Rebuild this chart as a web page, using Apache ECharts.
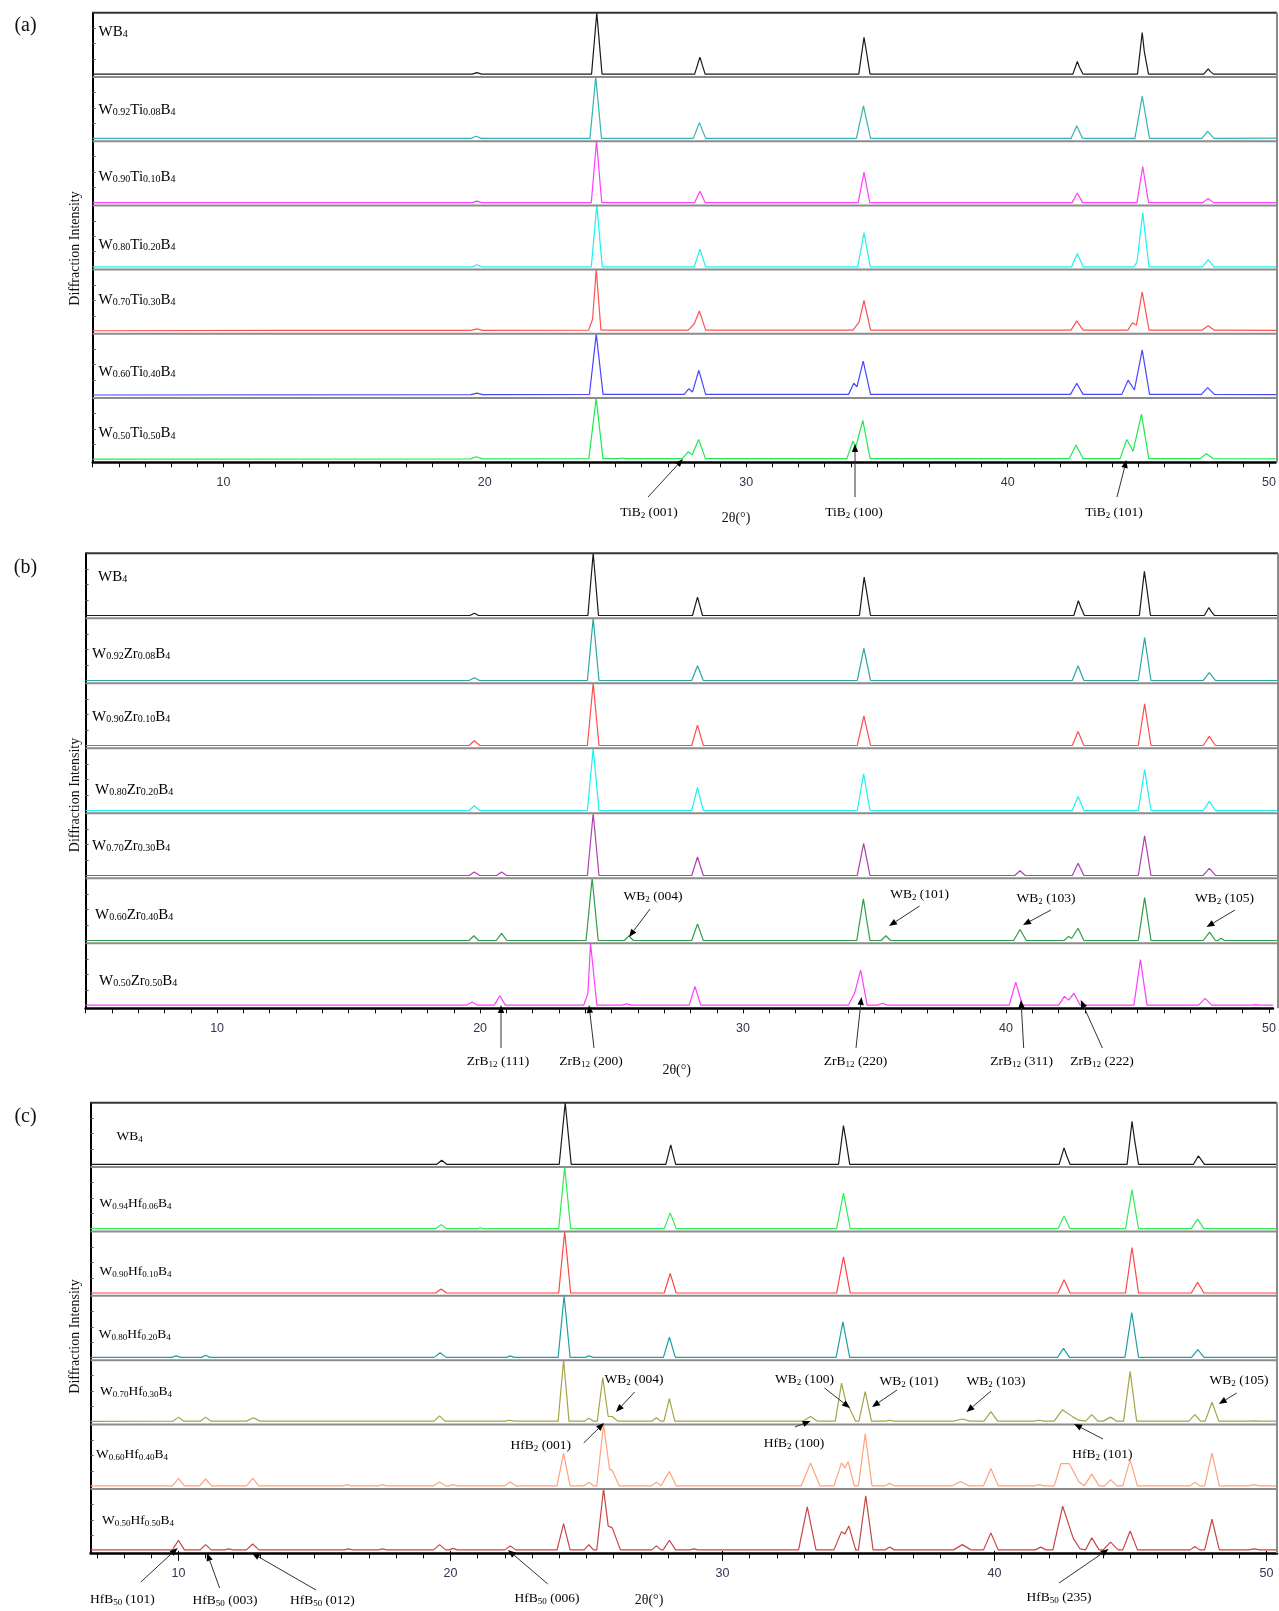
<!DOCTYPE html>
<html>
<head>
<meta charset="utf-8">
<script src="https://cdn.jsdelivr.net/npm/echarts@6/dist/echarts.min.js"></script>
<style>
html, body { margin: 0; padding: 0; background: #fff; }
#chart { width: 1279px; height: 1611px; }
</style>
</head>
<body>
<div id="chart"></div>
<script>
// 2θ tick labels
const tickLabels = [10, 20, 30, 40, 50];

// sample names as [main, subscript] pieces
const namesA = [
  [['WB', '4']],
  [['W', '0.92'], ['Ti', '0.08'], ['B', '4']],
  [['W', '0.90'], ['Ti', '0.10'], ['B', '4']],
  [['W', '0.80'], ['Ti', '0.20'], ['B', '4']],
  [['W', '0.70'], ['Ti', '0.30'], ['B', '4']],
  [['W', '0.60'], ['Ti', '0.40'], ['B', '4']],
  [['W', '0.50'], ['Ti', '0.50'], ['B', '4']]
];
const namesB = [
  [['WB', '4']],
  [['W', '0.92'], ['Zr', '0.08'], ['B', '4']],
  [['W', '0.90'], ['Zr', '0.10'], ['B', '4']],
  [['W', '0.80'], ['Zr', '0.20'], ['B', '4']],
  [['W', '0.70'], ['Zr', '0.30'], ['B', '4']],
  [['W', '0.60'], ['Zr', '0.40'], ['B', '4']],
  [['W', '0.50'], ['Zr', '0.50'], ['B', '4']]
];
const namesC = [
  [['WB', '4']],
  [['W', '0.94'], ['Hf', '0.06'], ['B', '4']],
  [['W', '0.90'], ['Hf', '0.10'], ['B', '4']],
  [['W', '0.80'], ['Hf', '0.20'], ['B', '4']],
  [['W', '0.70'], ['Hf', '0.30'], ['B', '4']],
  [['W', '0.60'], ['Hf', '0.40'], ['B', '4']],
  [['W', '0.50'], ['Hf', '0.50'], ['B', '4']]
];

// ---- (a) W-Ti-B patterns: [2θ, relative intensity]
const wb4A = [[5,0.5],[19.5,0.5],[19.68,3],[19.86,0.5],[24.06,0.5],[24.26,100],[24.46,0.5],[28.0,0.5],[28.2,28],[28.4,0.5],[34.27,0.5],[34.47,60],[34.55,40],[34.7,0.5],[42.45,0.5],[42.62,21],[42.7,12],[42.84,0.5],[44.92,0.5],[45.1,68],[45.18,37],[45.34,0.5],[47.45,0.5],[47.62,9],[47.7,5],[47.82,0.5],[50.25,0.5]];
const ti08 = [[5,0.5],[19.45,0.5],[19.65,4],[19.85,0.5],[24.0,0.5],[24.22,100],[24.44,0.5],[27.95,0.5],[28.18,26],[28.42,0.5],[34.18,0.5],[34.45,53],[34.72,0.5],[42.38,0.5],[42.6,21],[42.82,0.5],[44.82,0.5],[45.1,69],[45.38,0.5],[47.38,0.5],[47.6,12],[47.84,0.5],[50.25,1]];
const ti10 = [[5,0.5],[19.5,0.5],[19.68,3],[19.86,0.5],[24.05,0.5],[24.25,100],[24.45,0.5],[28.0,0.5],[28.2,19],[28.4,0.5],[34.25,0.5],[34.47,50],[34.69,0.5],[42.42,0.5],[42.62,16],[42.82,0.5],[44.9,0.5],[45.12,59],[45.34,0.5],[47.42,0.5],[47.62,7],[47.82,0.5],[50.25,0.5]];
const ti20 = [[5,0.5],[19.5,0.5],[19.68,4],[19.86,0.5],[24.05,0.5],[24.26,100],[24.47,0.5],[27.98,0.5],[28.2,29],[28.42,0.5],[34.23,0.5],[34.47,56],[34.71,0.5],[42.4,0.5],[42.62,22],[42.84,0.5],[44.78,0.5],[44.9,8],[45.12,88],[45.36,0.5],[47.4,0.5],[47.62,12],[47.84,0.5],[50.25,0.5]];
const ti30 = [[5,1],[12,1.5],[19.45,1.5],[19.68,4],[19.9,1.5],[23.95,2],[24.1,20],[24.24,100],[24.42,2],[27.75,2],[27.98,12],[28.18,33],[28.42,2],[34.05,2],[34.28,15],[34.47,50],[34.72,2],[42.38,2],[42.6,17],[42.84,2],[44.55,2],[44.73,14],[44.88,10],[45.1,64],[45.36,2],[47.38,2],[47.62,9],[47.86,2],[50.25,1.5]];
const ti40 = [[5,1],[19.45,1.5],[19.68,4],[19.9,1.5],[23.98,2],[24.24,100],[24.5,2],[27.6,2],[27.77,11],[27.92,6],[28.16,41],[28.42,2],[33.88,2],[34.08,20],[34.2,14],[34.44,56],[34.72,2],[42.36,2],[42.6,20],[42.84,2],[44.32,2],[44.56,25],[44.8,9],[45.1,74],[45.38,2],[47.36,2],[47.6,13],[47.86,2],[50.25,1.5]];
const ti50 = [[5,1],[19.45,1.5],[19.68,5],[19.9,1.5],[23.98,2],[24.26,100],[24.52,2],[25.1,2],[25.25,3],[25.4,2],[27.55,2],[27.78,13],[27.93,8],[28.18,33],[28.44,2],[33.85,2],[34.08,30],[34.2,22],[34.46,64],[34.74,2],[42.36,2],[42.62,24],[42.88,2],[44.3,2],[44.56,33],[44.8,14],[45.12,74],[45.4,2],[47.36,2],[47.6,10],[47.86,2],[50.25,1.5]];

// ---- (b) W-Zr-B patterns
const wb4B = [[5,0.5],[19.55,0.5],[19.72,4],[19.88,0.5],[24.02,0.5],[24.22,100],[24.42,0.5],[27.98,0.5],[28.17,30],[28.36,0.5],[34.3,0.5],[34.48,62],[34.56,42],[34.72,0.5],[42.42,0.5],[42.59,24],[42.68,14],[42.82,0.5],[44.9,0.5],[45.09,71],[45.18,45],[45.32,0.5],[47.36,0.5],[47.53,13],[47.62,7],[47.74,0.5],[50.15,0.5]];
const zr08 = [[5,0.5],[19.52,0.5],[19.72,5],[19.92,0.5],[24.0,0.5],[24.22,100],[24.44,0.5],[27.95,0.5],[28.17,24],[28.39,0.5],[34.22,0.5],[34.47,52],[34.72,0.5],[42.36,0.5],[42.58,24],[42.8,0.5],[44.86,0.5],[45.1,69],[45.34,0.5],[47.32,0.5],[47.55,13],[47.78,0.5],[50.15,0.5]];
const zr10 = [[5,0.5],[19.52,0.5],[19.72,8],[19.92,0.5],[24.0,0.5],[24.22,100],[24.44,0.5],[27.95,0.5],[28.17,33],[28.39,0.5],[34.22,0.5],[34.47,48],[34.72,0.5],[42.36,0.5],[42.58,23],[42.8,0.5],[44.86,0.5],[45.1,67],[45.34,0.5],[47.32,0.5],[47.55,15],[47.78,0.5],[50.15,0.5]];
const zr20 = [[5,0.5],[19.52,0.5],[19.72,8],[19.92,0.5],[24.0,0.5],[24.22,100],[24.44,0.5],[27.95,0.5],[28.17,37],[28.39,0.5],[34.22,0.5],[34.46,59],[34.7,0.5],[42.36,0.5],[42.58,23],[42.8,0.5],[44.86,0.5],[45.1,66],[45.34,0.5],[47.32,0.5],[47.55,15],[47.78,0.5],[50.15,0.5]];
const zr30 = [[5,0.5],[19.52,0.5],[19.72,6],[19.92,0.5],[20.56,0.5],[20.75,6],[20.94,0.5],[24.0,0.5],[24.22,100],[24.44,0.5],[27.95,0.5],[28.17,30],[28.39,0.5],[34.22,0.5],[34.46,52],[34.7,0.5],[40.18,0.5],[40.38,8],[40.58,0.5],[42.36,0.5],[42.58,20],[42.8,0.5],[44.86,0.5],[45.1,64],[45.34,0.5],[47.32,0.5],[47.55,12],[47.78,0.5],[50.15,0.5]];
const zr40 = [[5,0.5],[19.52,0.5],[19.7,8],[19.88,0.5],[20.55,0.5],[20.75,12],[20.95,0.5],[23.95,0.5],[24.18,100],[24.41,0.5],[25.4,0.5],[25.57,8],[25.74,0.5],[27.95,0.5],[28.17,27],[28.39,0.5],[34.2,0.5],[34.45,67],[34.7,0.5],[35.12,0.5],[35.3,8],[35.48,0.5],[40.14,0.5],[40.38,18],[40.62,0.5],[42.05,0.5],[42.22,7],[42.34,4],[42.58,20],[42.8,0.5],[44.86,0.5],[45.1,69],[45.34,0.5],[47.32,0.5],[47.56,14],[47.78,0.5],[47.88,0.5],[48.0,4],[48.12,0.5],[50.15,0.5]];
const zr50 = [[5,1],[19.5,1],[19.7,6],[19.9,1],[20.54,1],[20.75,16],[20.96,1],[23.94,1],[24.1,20],[24.2,100],[24.44,1],[25.4,1],[25.57,3],[25.74,1],[27.95,1],[28.17,31],[28.39,1],[34.0,1],[34.24,20],[34.47,57],[34.72,1],[35.12,1],[35.3,4],[35.48,1],[40.12,1],[40.37,38],[40.62,1],[42.0,1],[42.22,15],[42.38,9],[42.58,20],[42.82,1],[44.86,1],[45.11,74],[45.36,1],[47.32,1],[47.57,12],[47.82,1],[49.35,1],[49.5,2],[49.65,1],[50.15,1]];

// ---- (c) W-Hf-B patterns
const wb4C = [[6.77,0.5],[19.5,0.5],[19.68,7],[19.86,0.5],[24.0,0.5],[24.22,100],[24.44,0.5],[27.92,0.5],[28.1,32],[28.28,0.5],[34.27,0.5],[34.45,63],[34.54,40],[34.68,0.5],[42.38,0.5],[42.56,27],[42.65,15],[42.78,0.5],[44.88,0.5],[45.06,70],[45.15,41],[45.3,0.5],[47.32,0.5],[47.5,14],[47.6,8],[47.72,0.5],[50.39,0.5]];
const hf06 = [[6.77,0.5],[19.46,0.5],[19.66,7],[19.86,0.5],[21.0,0.5],[21.1,2],[21.2,0.5],[23.98,0.5],[24.2,100],[24.42,0.5],[27.86,0.5],[28.08,26],[28.3,0.5],[34.2,0.5],[34.45,58],[34.7,0.5],[42.34,0.5],[42.56,21],[42.78,0.5],[44.82,0.5],[45.06,63],[45.3,0.5],[47.24,0.5],[47.47,16],[47.7,0.5],[50.39,0.5]];
const hf10 = [[6.77,0.5],[19.46,0.5],[19.66,7],[19.86,0.5],[23.98,0.5],[24.2,100],[24.42,0.5],[27.86,0.5],[28.08,32],[28.3,0.5],[34.2,0.5],[34.45,59],[34.7,0.5],[42.34,0.5],[42.56,22],[42.78,0.5],[44.82,0.5],[45.06,74],[45.3,0.5],[47.24,0.5],[47.47,18],[47.7,0.5],[50.39,0.5]];
const hf20 = [[6.77,0.5],[9.75,0.5],[9.92,3],[10.09,0.5],[10.85,0.5],[11.0,4],[11.15,0.5],[19.4,0.5],[19.62,8],[19.84,0.5],[22.06,0.5],[22.2,3],[22.34,0.5],[23.96,0.5],[24.18,100],[24.4,0.5],[24.96,0.5],[25.1,3],[25.24,0.5],[27.83,0.5],[28.05,33],[28.27,0.5],[34.18,0.5],[34.43,58],[34.68,0.5],[42.32,0.5],[42.54,15],[42.76,0.5],[44.8,0.5],[45.05,73],[45.3,0.5],[47.25,0.5],[47.48,13],[47.71,0.5],[50.39,0.5]];
const hf30 = [[6.77,1],[9.8,1.5],[10.0,8],[10.2,1.5],[10.8,1.5],[11.0,8],[11.2,1.5],[12.5,1.5],[12.75,7],[13.0,1.5],[19.4,1.5],[19.6,10],[19.8,1.5],[22.0,1.5],[22.18,3],[22.36,1.5],[23.96,1.5],[24.16,100],[24.36,1.5],[24.92,1.5],[25.09,6],[25.26,1.5],[25.4,1.5],[25.6,72],[25.8,9],[25.95,9],[26.15,1.5],[27.4,1.5],[27.57,7],[27.74,1.5],[27.85,1.5],[28.05,38],[28.25,1.5],[32.95,1.5],[33.24,9],[33.5,1.5],[34.15,1.5],[34.38,63],[34.55,30],[34.7,20],[34.9,1.5],[35.02,1.5],[35.25,49],[35.48,1.5],[35.98,1.5],[36.15,3],[36.32,1.5],[38.5,1.5],[38.82,5],[39.1,1.5],[39.62,1.5],[39.87,17],[40.12,1.5],[41.45,1.5],[41.64,3],[41.83,1.5],[42.2,1.5],[42.5,20],[42.9,8],[43.1,3],[43.35,1.5],[43.58,12],[43.8,1.5],[44.0,1.5],[44.27,8],[44.5,1.5],[44.75,1.5],[44.99,82],[45.23,1.5],[47.15,1.5],[47.37,12],[47.58,1.5],[47.75,1.5],[48.0,32],[48.25,1.5],[49.35,1.5],[49.55,2],[49.75,1.5],[50.39,1.5]];
const hf40 = [[6.77,1],[9.78,1],[10.0,13],[10.22,1],[10.78,1],[11.0,12],[11.22,1],[12.5,1],[12.73,13],[12.96,1],[16.05,1],[16.2,3],[16.35,1],[17.35,1],[17.5,3],[17.65,1],[19.38,1],[19.6,7],[19.82,1],[19.95,1],[20.1,3],[20.25,1],[22.0,1],[22.2,7],[22.4,1],[23.92,1],[24.16,54],[24.4,1],[24.92,1],[25.09,7],[25.26,1],[25.38,1],[25.63,100],[25.85,28],[25.95,26],[26.2,1],[27.4,1],[27.57,7],[27.74,1],[27.8,1],[28.05,24],[28.3,1],[32.9,1],[33.24,38],[33.58,1],[34.1,1],[34.38,38],[34.5,30],[34.62,40],[34.85,1],[35.0,1],[35.25,85],[35.5,1],[35.98,1],[36.15,5],[36.32,1],[38.45,1],[38.75,8],[39.05,1],[39.6,1],[39.87,29],[40.14,1],[41.45,1],[41.64,3],[41.83,1],[42.2,1],[42.45,37],[42.75,37],[43.1,8],[43.3,1],[43.58,20],[43.85,1],[44.05,1],[44.27,11],[44.5,1],[44.72,1],[44.99,43],[45.26,1],[47.2,1],[47.37,7],[47.54,1],[47.73,1],[48.0,54],[48.27,1],[49.35,1],[49.55,3],[49.75,1],[50.39,1]];
const hf50 = [[6.77,1.5],[9.78,1.5],[10.0,17],[10.22,1.5],[10.8,1.5],[11.0,10],[11.2,1.5],[11.7,1.5],[11.85,3],[12.0,1.5],[12.5,1.5],[12.73,11],[12.96,1.5],[16.1,1.5],[16.25,3],[16.4,1.5],[17.35,1.5],[17.5,3],[17.65,1.5],[19.38,1.5],[19.6,10],[19.82,1.5],[19.95,1.5],[20.1,4],[20.25,1.5],[22.0,1.5],[22.2,8],[22.4,1.5],[23.92,1.5],[24.16,44],[24.4,1.5],[24.92,1.5],[25.09,10],[25.26,1.5],[25.38,1.5],[25.63,100],[25.8,40],[25.95,37],[26.25,1.5],[27.4,1.5],[27.57,8],[27.74,1.5],[27.82,1.5],[28.05,17],[28.28,1.5],[28.8,1.5],[28.95,3],[29.1,1.5],[32.8,1.5],[33.12,71],[33.44,1.5],[34.1,1.5],[34.38,31],[34.5,27],[34.65,40],[34.9,1.5],[35.0,1.5],[35.27,89],[35.54,1.5],[35.98,1.5],[36.15,6],[36.32,1.5],[38.5,1.5],[38.82,10],[39.14,1.5],[39.6,1.5],[39.87,29],[40.14,1.5],[41.5,1.5],[41.7,6],[41.9,1.5],[42.15,1.5],[42.51,72],[42.9,20],[43.15,3],[43.35,1.5],[43.58,21],[43.85,1.5],[44.0,1.5],[44.27,14],[44.55,1.5],[44.72,1.5],[44.99,32],[45.26,1.5],[47.2,1.5],[47.37,7],[47.54,1.5],[47.73,1.5],[48.0,51],[48.27,1.5],[49.35,1.5],[49.55,3],[49.75,1.5],[50.39,1.5]];

// ---- annotations (label pieces)
const annA = [
  [['TiB', '2'], [' (001)']],
  [['TiB', '2'], [' (100)']],
  [['TiB', '2'], [' (101)']]
];
const annB = [
  [['ZrB', '12'], [' (111)']],
  [['ZrB', '12'], [' (200)']],
  [['ZrB', '12'], [' (220)']],
  [['ZrB', '12'], [' (311)']],
  [['ZrB', '12'], [' (222)']],
  [['WB', '2'], [' (004)']],
  [['WB', '2'], [' (101)']],
  [['WB', '2'], [' (103)']],
  [['WB', '2'], [' (105)']]
];
const annC = [
  [['HfB', '50'], [' (101)']],
  [['HfB', '50'], [' (003)']],
  [['HfB', '50'], [' (012)']],
  [['HfB', '50'], [' (006)']],
  [['HfB', '50'], [' (235)']],
  [['HfB', '2'], [' (001)']],
  [['WB', '2'], [' (004)']],
  [['WB', '2'], [' (100)']],
  [['WB', '2'], [' (101)']],
  [['WB', '2'], [' (103)']],
  [['WB', '2'], [' (105)']],
  [['HfB', '2'], [' (100)']],
  [['HfB', '2'], [' (101)']]
];

// ---- layout
const SERIF = '"Liberation Serif", "Times New Roman", serif';
const SANS = '"Liberation Sans", Arial, sans-serif';

const panels = [
  {
    tag: '(a)', tagPos: [25.5, 26], left: 92.7, right: 1277, top: 12.7, rowH: 64.23, min: 5, max: 50.25,
    tickStart: 5, data: [wb4A, ti08, ti10, ti20, ti30, ti40, ti50], names: namesA, nameSize: 15,
    colors: ['#1a1a1a', '#37b3b3', '#ff3dff', '#1ff0f0', '#ff5252', '#4747ff', '#1eea4e'],
    labelPos: [[98.6, 30], [98.6, 108], [98.6, 175], [98.6, 243], [98.6, 298], [98.6, 370], [98.6, 431.5]],
    ylabel: [75, 248.5], xlabel: [736, 518],
    ann: annA,
    annPos: [
      { t: [649, 511], a: [648, 497], b: [683, 459] },
      { t: [854, 511], a: [855, 497], b: [855, 444] },
      { t: [1114, 511], a: [1117, 497], b: [1126.5, 460] }
    ]
  },
  {
    tag: '(b)', tagPos: [25.5, 568], left: 85.6, right: 1278, top: 553.3, rowH: 65.0, min: 5, max: 50.15,
    tickStart: 5, data: [wb4B, zr08, zr10, zr20, zr30, zr40, zr50], names: namesB, nameSize: 15,
    colors: ['#1a1a1a', '#2aa6a6', '#ff4d4d', '#1ff0f0', '#b03fb0', '#2e9e48', '#ff3dff'],
    labelPos: [[98, 575], [92, 652], [92, 715], [95, 787.7], [92, 844], [95, 913], [99, 979]],
    ylabel: [75, 795], xlabel: [676.7, 1070],
    ann: annB,
    annPos: [
      { t: [498, 1060], a: [501, 1048], b: [501, 1005] },
      { t: [591, 1060], a: [594, 1048], b: [589, 1005] },
      { t: [855.5, 1060], a: [856, 1048], b: [861.5, 997] },
      { t: [1021.6, 1060], a: [1023.7, 1048], b: [1021, 1000] },
      { t: [1102, 1060], a: [1102.4, 1048], b: [1080.8, 1000] },
      { t: [653, 895], a: [650, 909], b: [629, 937] },
      { t: [919.6, 893], a: [919.6, 906], b: [889, 926] },
      { t: [1046, 897], a: [1051, 910], b: [1023, 925] },
      { t: [1224.5, 897], a: [1235, 910], b: [1206.5, 927] }
    ]
  },
  {
    tag: '(c)', tagPos: [25.5, 1116.5], left: 90.6, right: 1277, top: 1102.7, rowH: 64.37, min: 6.77, max: 50.39,
    tickStart: 7, majorTicks: true, data: [wb4C, hf06, hf10, hf20, hf30, hf40, hf50], names: namesC, nameSize: 13.5,
    colors: ['#1a1a1a', '#30ec55', '#ff4545', '#1f9fa6', '#a5a548', '#ffa47c', '#c74646'],
    labelPos: [[116.6, 1135], [99.6, 1202], [99.6, 1270], [98.8, 1333], [100, 1390], [96, 1453], [102, 1519]],
    ylabel: [75.5, 1336.5], xlabel: [649, 1600],
    ann: annC,
    annPos: [
      { t: [122.4, 1598], a: [140.8, 1582], b: [177.6, 1548] },
      { t: [225, 1599], a: [219.6, 1588], b: [207, 1553] },
      { t: [322.4, 1599], a: [316, 1590], b: [251.8, 1553] },
      { t: [547, 1597], a: [547.8, 1584], b: [508, 1550] },
      { t: [1059, 1596], a: [1059, 1583], b: [1108.6, 1549] },
      { t: [540.8, 1444], a: [583.7, 1443], b: [604, 1423] },
      { t: [634, 1378], a: [634.7, 1392], b: [616, 1412] },
      { t: [804.5, 1378], a: [824.5, 1388], b: [850, 1408] },
      { t: [909, 1380], a: [897, 1390], b: [872, 1407] },
      { t: [996, 1380], a: [991, 1391], b: [966.5, 1412] },
      { t: [1239, 1379], a: [1236.7, 1393], b: [1218.8, 1404] },
      { t: [794, 1442], a: [795, 1427], b: [810.6, 1421] },
      { t: [1102.4, 1453], a: [1103, 1439], b: [1074, 1424] }
    ]
  }
];

function richText(parts) {
  return parts.map(function (p) {
    return '{m|' + p[0] + '}' + (p[1] ? '{s|' + p[1] + '}' : '');
  }).join('');
}
function richStyle(size) {
  return {
    m: { fontFamily: SERIF, fontSize: size, color: '#111', lineHeight: size + 4, verticalAlign: 'bottom' },
    s: { fontFamily: SERIF, fontSize: Math.round(size * 0.66), color: '#111', lineHeight: 4, verticalAlign: 'bottom' }
  };
}
function arrow(from, to) {
  const dx = to[0] - from[0], dy = to[1] - from[1];
  const L = Math.hypot(dx, dy), ux = dx / L, uy = dy / L;
  const hl = 8, hw = 3.2;
  const bx = to[0] - ux * hl, by = to[1] - uy * hl;
  return [
    { type: 'line', z: 100, shape: { x1: from[0], y1: from[1], x2: bx, y2: by }, style: { stroke: '#333', lineWidth: 1 } },
    { type: 'polygon', z: 100, shape: { points: [to, [bx - uy * hw, by + ux * hw], [bx + uy * hw, by - ux * hw]] }, style: { fill: '#000' } }
  ];
}
function hline(x1, x2, y, color, w) {
  return { type: 'line', z: 90, shape: { x1: x1, y1: y, x2: x2, y2: y }, style: { stroke: color, lineWidth: w } };
}

const grid = [], xAxis = [], yAxis = [], series = [], graphic = [];

panels.forEach(function (p) {
  const minorTicks = [];
  for (let v = p.tickStart; v <= 50; v++) minorTicks.push(v);
  const bottom = p.top + p.rowH * p.data.length;
  p.data.forEach(function (d, i) {
    const idx = grid.length;
    const last = i === p.data.length - 1;
    grid.push({ left: p.left, top: p.top + i * p.rowH, width: p.right - p.left, height: p.rowH, show: false });
    xAxis.push({
      type: 'value', gridIndex: idx, min: p.min, max: p.max, show: last, position: 'bottom',
      axisLine: { show: true, onZero: false, lineStyle: { color: '#000', width: 2.5 } },
      axisTick: { show: true, customValues: minorTicks, length: 5, lineStyle: { color: '#000', width: 1 } },
      axisLabel: { show: true, customValues: tickLabels, margin: 14, color: '#343450', fontSize: 12.5, fontFamily: SANS },
      splitLine: { show: false }
    });
    yAxis.push({
      type: 'value', gridIndex: idx, min: -4, max: 100,
      axisLine: { show: true, onZero: false, lineStyle: { color: '#000', width: 2 } },
      axisTick: { show: true, inside: true, length: 3, customValues: [25, 50, 75], lineStyle: { color: '#555' } },
      axisLabel: { show: false }, splitLine: { show: false }
    });
    series.push({
      type: 'line', xAxisIndex: idx, yAxisIndex: idx, data: d, symbol: 'none', silent: true,
      lineStyle: { color: p.colors[i], width: 1.2 }
    });
    graphic.push({
      type: 'text', z: 100, x: p.labelPos[i][0], y: p.labelPos[i][1],
      style: { text: richText(p.names[i]), rich: richStyle(p.nameSize), align: 'left', verticalAlign: 'middle' }
    });
    // grey separator under each row except the last one
    if (!last) graphic.push(hline(p.left, p.right, p.top + (i + 1) * p.rowH, '#8c8c8c', 2));
    if (last && p.majorTicks) {
      xAxis.push({
        type: 'value', gridIndex: idx, min: p.min, max: p.max, position: 'bottom',
        axisLine: { show: false },
        axisTick: { show: true, customValues: tickLabels, length: 10, lineStyle: { color: '#000', width: 1 } },
        axisLabel: { show: false }, splitLine: { show: false }
      });
    }
  });
  // panel frame: top and right
  graphic.push(hline(p.left, p.right, p.top, '#333', 2));
  graphic.push({ type: 'line', z: 90, shape: { x1: p.right, y1: p.top, x2: p.right, y2: bottom }, style: { stroke: '#8c8c8c', lineWidth: 2 } });
  // panel tag
  graphic.push({ type: 'text', z: 100, x: p.tagPos[0], y: p.tagPos[1], style: { text: p.tag, fontFamily: SERIF, fontSize: 20, fill: '#111', align: 'center', verticalAlign: 'middle' } });
  // axis titles
  graphic.push({ type: 'text', z: 100, x: p.ylabel[0], y: p.ylabel[1], rotation: Math.PI / 2, style: { text: 'Diffraction Intensity', fontFamily: SERIF, fontSize: 14, fill: '#111', align: 'center', verticalAlign: 'middle' } });
  graphic.push({ type: 'text', z: 100, x: p.xlabel[0], y: p.xlabel[1], style: { text: '2θ(°)', fontFamily: SERIF, fontSize: 14, fill: '#111', align: 'center', verticalAlign: 'middle' } });
  // peak annotations
  p.ann.forEach(function (a, k) {
    const pos = p.annPos[k];
    graphic.push({ type: 'text', z: 100, x: pos.t[0], y: pos.t[1], style: { text: richText(a), rich: richStyle(13.5), align: 'center', verticalAlign: 'middle' } });
    arrow(pos.a, pos.b).forEach(function (g) { graphic.push(g); });
  });
});

const chart = echarts.init(document.getElementById('chart'));
chart.setOption({
  animation: false,
  backgroundColor: '#fff',
  grid: grid,
  xAxis: xAxis,
  yAxis: yAxis,
  series: series,
  graphic: graphic
});
</script>
</body>
</html>
